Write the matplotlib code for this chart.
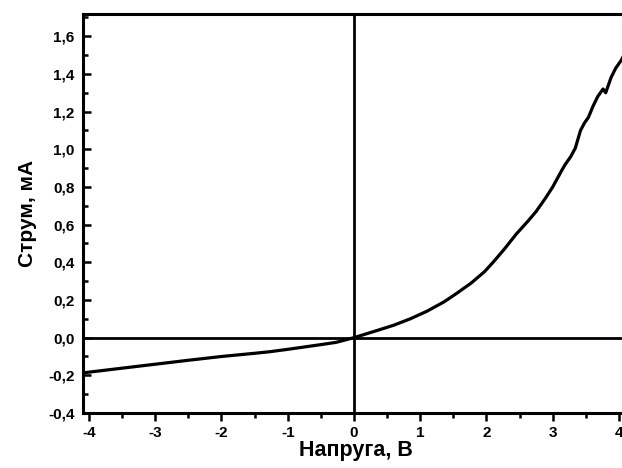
import matplotlib
matplotlib.use("Agg")
from matplotlib import pyplot as plt
from matplotlib.ticker import MultipleLocator, FuncFormatter

# I-V curve, voltage in V, current in mA
voltage = [-4.09, -3.5, -3.0, -2.5, -2.0, -1.5, -1.28, -1.0, -0.5, -0.27, 0.0,
           0.34, 0.6, 0.85, 1.1, 1.36, 1.55, 1.77, 1.97, 2.1, 2.27, 2.45, 2.63, 2.75,
           2.89, 3.0, 3.14, 3.19, 3.27, 3.34, 3.42, 3.48, 3.54, 3.61, 3.68, 3.76,
           3.80, 3.84, 3.88, 3.95, 4.03, 4.12]
current = [-0.187, -0.162, -0.141, -0.12, -0.10, -0.083, -0.075, -0.062, -0.037, -0.025, 0.0,
           0.037, 0.066, 0.10, 0.14, 0.19, 0.235, 0.29, 0.35, 0.40, 0.47, 0.55, 0.62, 0.67,
           0.74, 0.80, 0.89, 0.92, 0.96, 1.005, 1.10, 1.14, 1.17, 1.23, 1.28, 1.32,
           1.30, 1.34, 1.38, 1.43, 1.47, 1.53]

plt.rcParams['font.family'] = ['Liberation Sans', 'DejaVu Sans']
plt.rcParams['font.weight'] = 'bold'

fig = plt.figure(figsize=(6.22, 4.68), dpi=100)
ax = fig.add_axes([0.1334, 0.1175, 0.8666 + 0.01, 0.8525])

ax.plot(voltage, current, color='black', lw=2.3)
ax.axhline(0, color='black', lw=2.0)
ax.axvline(0, color='black', lw=2.0)

ax.set_xlim(-4.09, 4.14)
ax.set_ylim(-0.4, 1.718)

ax.xaxis.set_major_locator(MultipleLocator(1))
ax.xaxis.set_minor_locator(MultipleLocator(0.5))
ax.yaxis.set_major_locator(MultipleLocator(0.2))
ax.yaxis.set_minor_locator(MultipleLocator(0.1))

comma = FuncFormatter(lambda v, pos: "{:.1f}".format(v).replace('.', ',').replace('-0,0', '0,0'))
ax.yaxis.set_major_formatter(comma)
ax.xaxis.set_major_formatter(FuncFormatter(lambda v, pos: "{:d}".format(int(round(v)))))

ax.tick_params(axis='x', which='major', direction='out', length=6, width=1.8, pad=3, labelsize=11)
ax.tick_params(axis='x', which='minor', direction='out', length=3.5, width=1.8)
ax.tick_params(axis='y', which='major', direction='in', length=6, width=1.8, pad=6, labelsize=11)
ax.tick_params(axis='y', which='minor', direction='in', length=3.5, width=1.8)

for side in ('left', 'bottom', 'top'):
    ax.spines[side].set_linewidth(2.2)
ax.spines['right'].set_visible(False)

ax.set_xlabel('Напруга, В', fontsize=15.5, fontweight='bold', labelpad=0)
ax.set_ylabel('Струм, мА', fontsize=15, fontweight='bold', labelpad=8)

fig.savefig('out.png', dpi=100)
